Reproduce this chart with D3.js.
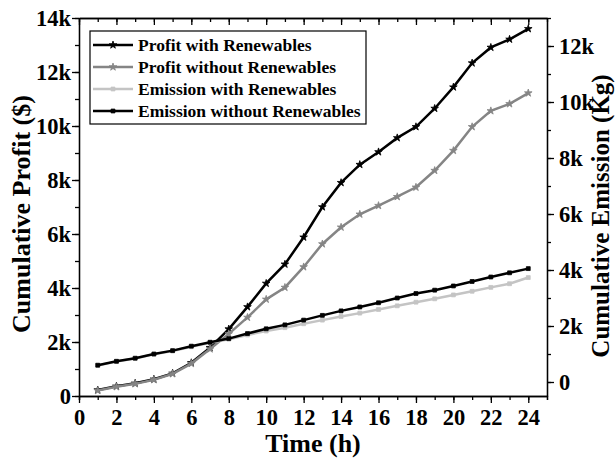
<!DOCTYPE html>
<html>
<head>
<meta charset="utf-8">
<script src="https://cdn.jsdelivr.net/npm/d3@7"></script>
<style>
  body { margin: 0; background: #fff; }
  text { font-family: "Liberation Serif", "Times New Roman", serif; font-weight: bold; }
</style>
</head>
<body>
<div class="svg-container"></div>
<script>
var hours = d3.range(1, 25);
var profitWith = [220, 360, 470, 620, 840, 1230, 1790, 2480, 3300, 4170, 4880, 5880,
                  7000, 7900, 8570, 9040, 9560, 9970, 10650, 11440, 12330, 12910, 13210, 13600];
var profitWithout = [200, 340, 450, 600, 820, 1200, 1740, 2300, 2910, 3580, 4020, 4780,
                     5630, 6250, 6730, 7050, 7380, 7730, 8350, 9090, 9970, 10560, 10820, 11220];
var emissionWith = [590, 730, 840, 990, 1110, 1260, 1400, 1530, 1680, 1820, 1940, 2080,
                    2210, 2340, 2460, 2590, 2720, 2850, 2970, 3110, 3240, 3380, 3510, 3730];
var emissionWithout = [600, 740, 850, 1000, 1120, 1280, 1420, 1550, 1730, 1900, 2040, 2210,
                       2380, 2540, 2680, 2830, 3000, 3160, 3280, 3430, 3590, 3750, 3900, 4050];
var xTicks = d3.range(0, 25, 2);
var leftTicks = d3.range(0, 14001, 2000);
var rightTicks = d3.range(0, 12001, 2000);

var series = [
    {name: "Profit with Renewables", values: profitWith, axis: "left", color: "#000000", marker: "star"},
    {name: "Profit without Renewables", values: profitWithout, axis: "left", color: "#858585", marker: "star"},
    {name: "Emission with Renewables", values: emissionWith, axis: "right", color: "#c4c4c4", marker: "square"},
    {name: "Emission without Renewables", values: emissionWithout, axis: "right", color: "#000000", marker: "square"}
];

var width = 615;
var height = 463;
var plotLeft = 79, plotRight = 547, plotTop = 18, plotBottom = 396;

var svg = d3.select(".svg-container").append("svg")
    .attr("width", width)
    .attr("height", height);

var x = d3.scaleLinear().domain([0, 25]).range([plotLeft, plotRight]);
var yL = d3.scaleLinear().domain([0, 14000]).range([plotBottom, plotTop]);
var yR = d3.scaleLinear().domain([-500, 13000]).range([plotBottom, plotTop]);

var fmt = function(d) { return d === 0 ? "0" : (d / 1000) + "k"; };

// minor ticks first, then major with labels
function styleAxis(g) {
    g.selectAll("path").attr("stroke", "#000").attr("stroke-width", 1.3);
    g.selectAll("line").attr("stroke", "#000").attr("stroke-width", 1.3);
    g.selectAll("text").attr("fill", "#000").style("font-size", "22.5px");
}

svg.append("g").attr("transform", "translate(0," + plotBottom + ")")
    .call(d3.axisBottom(x).tickValues(d3.range(0, 26, 1)).tickSize(4).tickFormat(""))
    .call(styleAxis);
svg.append("g").attr("transform", "translate(0," + plotBottom + ")")
    .call(d3.axisBottom(x).tickValues(xTicks).tickSize(7).tickSizeOuter(0).tickPadding(6))
    .call(styleAxis);

svg.append("g").attr("transform", "translate(0," + plotTop + ")")
    .call(d3.axisTop(x).tickValues(d3.range(0, 26, 1)).tickSize(-4).tickSizeOuter(0).tickFormat(""))
    .call(styleAxis);
svg.append("g").attr("transform", "translate(0," + plotTop + ")")
    .call(d3.axisTop(x).tickValues(xTicks).tickSize(-7).tickSizeOuter(0).tickFormat(""))
    .call(styleAxis);

svg.append("g").attr("transform", "translate(" + plotLeft + ",0)")
    .call(d3.axisLeft(yL).tickValues(d3.range(0, 14001, 1000)).tickSize(4).tickSizeOuter(0).tickFormat(""))
    .call(styleAxis);
svg.append("g").attr("transform", "translate(" + plotLeft + ",0)")
    .call(d3.axisLeft(yL).tickValues(leftTicks).tickSize(7).tickSizeOuter(0).tickPadding(1).tickFormat(fmt))
    .call(styleAxis);

svg.append("g").attr("transform", "translate(" + plotRight + ",0)")
    .call(d3.axisRight(yR).tickValues(d3.range(0, 13001, 1000)).tickSize(4).tickSizeOuter(0).tickFormat(""))
    .call(styleAxis);
svg.append("g").attr("transform", "translate(" + plotRight + ",0)")
    .call(d3.axisRight(yR).tickValues(rightTicks).tickSize(7).tickSizeOuter(0).tickPadding(5).tickFormat(fmt))
    .call(styleAxis);

// axis titles
svg.append("text")
    .attr("x", (plotLeft + plotRight) / 2)
    .attr("y", 452)
    .style("text-anchor", "middle")
    .style("font-size", "26px")
    .text("Time (h)");

svg.append("text")
    .attr("transform", "rotate(-90)")
    .attr("x", -214)
    .attr("y", 30)
    .style("text-anchor", "middle")
    .style("font-size", "26px")
    .text("Cumulative Profit ($)");

svg.append("text")
    .attr("transform", "rotate(-90)")
    .attr("x", -216)
    .attr("y", 609)
    .style("text-anchor", "middle")
    .style("font-size", "25px")
    .text("Cumulative Emission (Kg)");

// lines + markers
var star = d3.symbol().type(d3.symbolStar).size(18);
var square = d3.symbol().type(d3.symbolSquare).size(15);

series.forEach(function(s) {
    var yS = s.axis === "left" ? yL : yR;
    var line = d3.line()
        .x(function(d, i) { return x(hours[i]); })
        .y(function(d) { return yS(d); });

    svg.append("path")
        .datum(s.values)
        .attr("d", line)
        .attr("fill", "none")
        .attr("stroke", s.color)
        .attr("stroke-width", 2.5);

    svg.selectAll(null)
        .data(s.values)
        .enter().append("path")
        .attr("d", s.marker === "star" ? star : square)
        .attr("transform", function(d, i) { return "translate(" + x(hours[i]) + "," + yS(d) + ")"; })
        .attr("fill", s.color)
        .attr("stroke", s.color)
        .attr("stroke-width", 0.8);
});

// legend
var legend = svg.append("g").attr("transform", "translate(90,31)");
legend.append("rect")
    .attr("width", 276)
    .attr("height", 93)
    .attr("fill", "#fff")
    .attr("stroke", "#000")
    .attr("stroke-width", 1.2);

series.forEach(function(s, i) {
    var ly = 14 + i * 22;
    legend.append("line")
        .attr("x1", 3).attr("x2", 43)
        .attr("y1", ly).attr("y2", ly)
        .attr("stroke", s.color)
        .attr("stroke-width", 2.5);
    legend.append("path")
        .attr("d", s.marker === "star" ? star : square)
        .attr("transform", "translate(23," + ly + ")")
        .attr("fill", s.color)
        .attr("stroke", s.color)
        .attr("stroke-width", 0.8);
    legend.append("text")
        .attr("x", 48)
        .attr("y", ly + 6)
        .style("font-size", "17.5px")
        .text(s.name);
});
</script>
</body>
</html>
